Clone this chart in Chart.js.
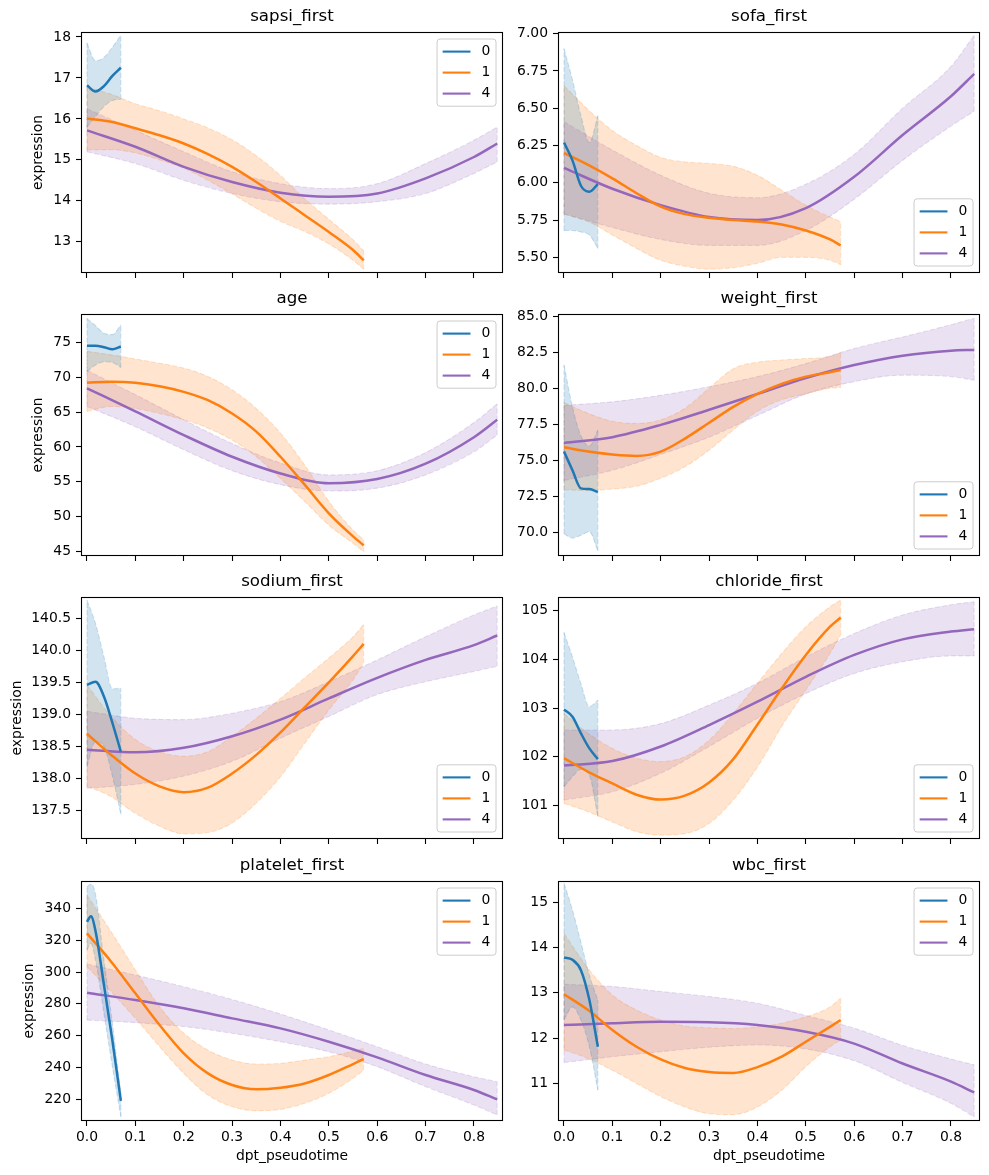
<!DOCTYPE html>
<html lang="en">
<head>
<meta charset="UTF-8">
<title>expression along dpt_pseudotime</title>
<script src="https://cdn.jsdelivr.net/npm/chart.js@4"></script>
<style>
  body { margin: 0; background: #fff; }
  #fig { position: relative; width: 989px; height: 1175px; overflow: hidden; }
  #fig canvas { position: absolute; }
</style>
</head>
<body>
<div id="fig"></div>
<script>
// pseudotime positions per cluster
const x0 = [0, 0.0175, 0.035, 0.0525, 0.07];
const x0p = [0, 0.008, 0.0175, 0.035, 0.0525, 0.07];
const x1 = [0, 0.05, 0.1, 0.15, 0.2, 0.25, 0.3, 0.35, 0.4, 0.45, 0.5, 0.55, 0.572];
const x4 = [0, 0.1, 0.2, 0.3, 0.4, 0.5, 0.6, 0.7, 0.8, 0.848];
const clusters = ['0', '1', '4'];
const xTicks = [0, 0.1, 0.2, 0.3, 0.4, 0.5, 0.6, 0.7, 0.8];

// sapsi_first
const sapsi0   = [16.82, 16.67, 16.8, 17.05, 17.25];
const sapsi0Lo = [15.8, 16.05, 16.3, 16.45, 16.48];
const sapsi0Hi = [17.85, 17.42, 17.5, 17.75, 18.04];
const sapsi1   = [16.01, 15.93, 15.77, 15.6, 15.4, 15.14, 14.83, 14.46, 14.06, 13.65, 13.24, 12.8, 12.55];
const sapsi1Lo = [15.24, 15.25, 15.17, 15.0, 14.8, 14.5, 14.17, 13.82, 13.5, 13.25, 12.95, 12.55, 12.33];
const sapsi1Hi = [16.78, 16.6, 16.37, 16.2, 16.0, 15.78, 15.49, 15.1, 14.62, 14.05, 13.55, 13.05, 12.78];
const sapsi4   = [15.72, 15.32, 14.83, 14.46, 14.2, 14.1, 14.18, 14.55, 15.07, 15.4];
const sapsi4Lo = [15.2, 14.91, 14.5, 14.18, 13.98, 13.92, 13.98, 14.18, 14.67, 14.95];
const sapsi4Hi = [16.25, 15.72, 15.2, 14.71, 14.42, 14.3, 14.42, 14.91, 15.48, 15.8];
const sapsiTicks = [13, 14, 15, 16, 17, 18];

// sofa_first
const sofa0   = [6.27, 6.15, 5.98, 5.94, 5.99];
const sofa0Lo = [5.68, 5.68, 5.67, 5.65, 5.56];
const sofa0Hi = [6.90, 6.69, 6.45, 6.27, 6.45];
const sofa1   = [6.20, 6.12, 6.03, 5.93, 5.84, 5.79, 5.765, 5.75, 5.74, 5.72, 5.68, 5.62, 5.58];
const sofa1Lo = [5.79, 5.74, 5.65, 5.56, 5.48, 5.44, 5.42, 5.43, 5.46, 5.50, 5.50, 5.48, 5.45];
const sofa1Hi = [6.65, 6.49, 6.35, 6.25, 6.17, 6.14, 6.13, 6.11, 6.05, 5.95, 5.85, 5.77, 5.74];
const sofa4   = [6.10, 5.96, 5.85, 5.77, 5.75, 5.83, 6.04, 6.32, 6.58, 6.73];
const sofa4Lo = [5.79, 5.70, 5.62, 5.58, 5.58, 5.68, 5.89, 6.15, 6.38, 6.48];
const sofa4Hi = [6.41, 6.22, 6.05, 5.93, 5.90, 5.99, 6.19, 6.50, 6.78, 6.99];
const sofaTicks = [5.5, 5.75, 6.0, 6.25, 6.5, 6.75, 7.0];

// age
const age0   = [74.5, 74.5, 74.3, 74.0, 74.4];
const age0Lo = [70.8, 71.75, 72.2, 72.1, 71.4];
const age0Hi = [78.4, 77.4, 76.3, 76.1, 77.5];
const age1   = [69.2, 69.35, 69.2, 68.7, 67.9, 66.7, 64.8, 62.2, 58.6, 54.6, 50.5, 47.2, 45.9];
const age1Lo = [65.1, 65.8, 65.5, 64.8, 63.9, 62.7, 61.0, 58.6, 55.5, 52.2, 48.8, 46.2, 45.0];
const age1Hi = [73.7, 73.2, 72.6, 72.0, 71.3, 70.1, 68.2, 65.5, 62.0, 57.4, 52.2, 48.1, 46.7];
const age4   = [68.4, 65.1, 61.7, 58.6, 56.2, 54.8, 55.4, 57.6, 61.4, 63.9];
const age4Lo = [65.8, 62.9, 59.6, 56.6, 54.6, 53.7, 54.1, 56.0, 59.3, 61.7];
const age4Hi = [71.0, 67.5, 63.9, 60.5, 57.7, 56.0, 56.6, 59.2, 63.5, 66.2];
const ageTicks = [45, 50, 55, 60, 65, 70, 75];

// weight_first
const weight0   = [75.6, 74.3, 73.05, 73.0, 72.8];
const weight0Lo = [69.9, 69.6, 69.8, 70.05, 68.7];
const weight0Hi = [81.6, 78.7, 76.7, 76.0, 77.1];
const weight1   = [75.9, 75.6, 75.4, 75.3, 75.6, 76.5, 77.6, 78.7, 79.6, 80.3, 80.8, 81.1, 81.25];
const weight1Lo = [72.95, 72.9, 73.0, 73.2, 73.75, 74.55, 75.7, 77.1, 78.4, 79.2, 79.6, 80.0, 80.05];
const weight1Hi = [79.0, 78.25, 77.7, 77.55, 77.8, 78.6, 80.0, 81.35, 81.8, 81.95, 82.05, 82.2, 82.45];
const weight4   = [76.2, 76.6, 77.45, 78.5, 79.6, 80.7, 81.6, 82.25, 82.6, 82.65];
const weight4Lo = [73.6, 74.3, 75.4, 76.6, 78.1, 79.6, 80.45, 80.9, 80.8, 80.55];
const weight4Hi = [78.8, 79.05, 79.5, 80.1, 80.8, 81.7, 82.75, 83.55, 84.4, 84.85];
const weightTicks = [70, 72.5, 75, 77.5, 80, 82.5, 85];

// sodium_first
const sodium0   = [139.46, 139.51, 139.28, 138.87, 138.42];
const sodium0Lo = [138.19, 138.58, 138.5, 138.04, 137.44];
const sodium0Hi = [140.78, 140.42, 139.9, 139.4, 139.41];
const sodium1   = [138.7, 138.37, 138.08, 137.88, 137.79, 137.86, 138.08, 138.37, 138.72, 139.11, 139.5, 139.91, 140.1];
const sodium1Lo = [137.88, 137.72, 137.46, 137.26, 137.14, 137.16, 137.31, 137.62, 138.03, 138.55, 139.07, 139.54, 139.8];
const sodium1Hi = [139.46, 138.97, 138.61, 138.42, 138.35, 138.42, 138.66, 138.94, 139.25, 139.57, 139.88, 140.21, 140.4];
const sodium4   = [138.45, 138.41, 138.48, 138.66, 138.92, 139.25, 139.57, 139.85, 140.08, 140.23];
const sodium4Lo = [137.85, 137.91, 138.04, 138.27, 138.63, 138.97, 139.31, 139.51, 139.67, 139.75];
const sodium4Hi = [139.05, 138.94, 138.92, 139.02, 139.2, 139.51, 139.85, 140.21, 140.55, 140.69];
const sodiumTicks = [137.5, 138, 138.5, 139, 139.5, 140, 140.5];

// chloride_first
const chloride0   = [102.97, 102.82, 102.48, 102.17, 101.95];
const chloride0Lo = [101.38, 101.59, 101.74, 101.62, 100.77];
const chloride0Hi = [104.55, 104.05, 103.5, 103.03, 103.16];
const chloride1   = [101.97, 101.69, 101.45, 101.22, 101.12, 101.2, 101.47, 101.95, 102.66, 103.4, 104.09, 104.67, 104.86];
const chloride1Lo = [101.04, 100.87, 100.66, 100.46, 100.39, 100.42, 100.63, 101.11, 101.79, 102.62, 103.37, 104.12, 104.5];
const chloride1Hi = [102.89, 102.48, 102.17, 101.97, 101.9, 102.0, 102.34, 102.89, 103.51, 104.12, 104.67, 105.08, 105.22];
const chloride4   = [101.82, 101.91, 102.21, 102.65, 103.13, 103.64, 104.09, 104.41, 104.57, 104.62];
const chloride4Lo = [101.11, 101.28, 101.66, 102.21, 102.79, 103.3, 103.71, 103.95, 104.07, 104.07];
const chloride4Hi = [102.55, 102.55, 102.68, 103.06, 103.51, 104.05, 104.53, 104.91, 105.12, 105.18];
const chlorideTicks = [101, 102, 103, 104, 105];

// platelet_first (cluster 0 sampled on x0p)
const platelet0   = [331.5, 335, 326, 292, 257, 219];
const platelet0Lo = [313.8, 318, 307.5, 274, 240.5, 209];
const platelet0Hi = [353.6, 355.3, 349, 307.5, 268, 223.8];
const platelet1   = [324.3, 306.5, 286.6, 266.7, 248.9, 236.3, 229, 226.3, 227.3, 230, 235.3, 242.2, 245.3];
const platelet1Lo = [303.4, 287.6, 270.9, 253.1, 236.3, 222.7, 215.4, 212.9, 213.7, 217.5, 223.8, 233.2, 238.4];
const platelet1Hi = [348.4, 325.3, 301.3, 278.2, 261.5, 251, 244.7, 242.2, 242.6, 244.7, 246.8, 250.4, 252];
const platelet4   = [287, 282.4, 277.2, 270.9, 264.6, 256.2, 246.4, 235.3, 225.9, 220];
const platelet4Lo = [269.8, 268.2, 265.7, 261.5, 256.2, 249.9, 240.5, 228, 216.4, 210.2];
const platelet4Hi = [305, 298.1, 290.8, 282.8, 273.6, 263.6, 253.1, 242.2, 234.2, 231.1];
const plateletTicks = [220, 240, 260, 280, 300, 320, 340];

// wbc_first
const wbc0   = [13.78, 13.73, 13.5, 12.84, 11.81];
const wbc0Lo = [12.4, 12.69, 12.4, 11.81, 10.85];
const wbc0Hi = [15.42, 14.83, 14.12, 13.39, 12.84];
const wbc1   = [12.97, 12.62, 12.18, 11.81, 11.53, 11.34, 11.25, 11.23, 11.36, 11.59, 11.92, 12.25, 12.4];
const wbc1Lo = [11.74, 11.55, 11.29, 11.0, 10.71, 10.48, 10.33, 10.31, 10.48, 10.85, 11.37, 11.81, 11.96];
const wbc1Hi = [14.31, 13.54, 12.95, 12.62, 12.4, 12.27, 12.23, 12.21, 12.25, 12.33, 12.47, 12.69, 12.88];
const wbc4   = [12.29, 12.33, 12.36, 12.35, 12.29, 12.14, 11.88, 11.44, 11.04, 10.8];
const wbc4Lo = [11.46, 11.59, 11.7, 11.8, 11.85, 11.76, 11.5, 11.02, 10.56, 10.26];
const wbc4Hi = [13.19, 13.14, 13.03, 12.92, 12.77, 12.5, 12.22, 11.84, 11.54, 11.41];
const wbcTicks = [11, 12, 13, 14, 15];

const series = {
  sapsi:    [[x0, sapsi0, sapsi0Lo, sapsi0Hi], [x1, sapsi1, sapsi1Lo, sapsi1Hi], [x4, sapsi4, sapsi4Lo, sapsi4Hi]],
  sofa:     [[x0, sofa0, sofa0Lo, sofa0Hi], [x1, sofa1, sofa1Lo, sofa1Hi], [x4, sofa4, sofa4Lo, sofa4Hi]],
  age:      [[x0, age0, age0Lo, age0Hi], [x1, age1, age1Lo, age1Hi], [x4, age4, age4Lo, age4Hi]],
  weight:   [[x0, weight0, weight0Lo, weight0Hi], [x1, weight1, weight1Lo, weight1Hi], [x4, weight4, weight4Lo, weight4Hi]],
  sodium:   [[x0, sodium0, sodium0Lo, sodium0Hi], [x1, sodium1, sodium1Lo, sodium1Hi], [x4, sodium4, sodium4Lo, sodium4Hi]],
  chloride: [[x0, chloride0, chloride0Lo, chloride0Hi], [x1, chloride1, chloride1Lo, chloride1Hi], [x4, chloride4, chloride4Lo, chloride4Hi]],
  platelet: [[x0p, platelet0, platelet0Lo, platelet0Hi], [x1, platelet1, platelet1Lo, platelet1Hi], [x4, platelet4, platelet4Lo, platelet4Hi]],
  wbc:      [[x0, wbc0, wbc0Lo, wbc0Hi], [x1, wbc1, wbc1Lo, wbc1Hi], [x4, wbc4, wbc4Lo, wbc4Hi]]
};

const panels = [
  {title: 'sapsi_first',    key: 'sapsi',    ticks: sapsiTicks,    ymin: 12.24,  ymax: 18.12, dec: 0, legend: 'upper', ylab: 38.5},
  {title: 'sofa_first',     key: 'sofa',     ticks: sofaTicks,     ymin: 5.395,  ymax: 7.011, dec: 2, legend: 'lower'},
  {title: 'age',            key: 'age',      ticks: ageTicks,      ymin: 44.38,  ymax: 79.05, dec: 0, legend: 'upper', ylab: 38.5},
  {title: 'weight_first',   key: 'weight',   ticks: weightTicks,   ymin: 68.36,  ymax: 85.14, dec: 1, legend: 'lower'},
  {title: 'sodium_first',   key: 'sodium',   ticks: sodiumTicks,   ymin: 137.06, ymax: 140.83, dec: 1, legend: 'lower', ylab: 17},
  {title: 'chloride_first', key: 'chloride', ticks: chlorideTicks, ymin: 100.31, ymax: 105.28, dec: 0, legend: 'lower'},
  {title: 'platelet_first', key: 'platelet', ticks: plateletTicks, ymin: 206.4,  ymax: 357.2, dec: 0, legend: 'upper', ylab: 29.5},
  {title: 'wbc_first',      key: 'wbc',      ticks: wbcTicks,      ymin: 10.17,  ymax: 15.47, dec: 0, legend: 'upper'}
];

const lineColors = ['#1f77b4', '#ff7f0e', '#9467bd'];
const bandColors = ['rgba(31,119,180,0.2)', 'rgba(255,127,14,0.2)', 'rgba(148,103,189,0.2)'];

// layout of the 4x2 grid (page pixels)
const cols = [{left: 0, width: 507, yW: 81, padR: 4}, {left: 500, width: 489, yW: 58, padR: 9}];
const rows = [{top: 32, bottom: 273}, {top: 314, bottom: 556}, {top: 597, bottom: 839}, {top: 881, bottom: 1121}];
const TITLE_H = 25;
const FIG_H = 1175;

Chart.defaults.font.family = "'DejaVu Sans', sans-serif";
Chart.defaults.font.size = 13.9;
Chart.defaults.color = '#000';

const framePlugin = {
  id: 'frame',
  afterDatasetsDraw(chart) {
    const {ctx, chartArea: a} = chart;
    ctx.save();
    ctx.strokeStyle = '#000';
    ctx.lineWidth = 1.1;
    ctx.strokeRect(Math.round(a.left) + 0.5, Math.round(a.top) + 0.5, Math.round(a.right - a.left) - 1, Math.round(a.bottom - a.top) - 1);
    ctx.restore();
  }
};

// matplotlib style legend box inside the axes
const mplLegend = {
  id: 'mplLegend',
  afterDraw(chart, args, opts) {
    const items = chart.data.datasets.filter(d => d.legendLabel !== undefined);
    const {ctx, chartArea: a} = chart;
    const pad = 5.6, rowH = 14, gap = 7, handle = 27.8, hpad = 11.1;
    ctx.save();
    ctx.font = "13.9px 'DejaVu Sans'";
    const textW = Math.max(...items.map(d => ctx.measureText(d.legendLabel).width));
    const w = pad * 2 + handle + hpad + textW;
    const h = pad * 2 + items.length * rowH + (items.length - 1) * gap;
    const x = a.right - 7 - w;
    const y = opts.loc === 'upper' ? a.top + 7 : a.bottom - 7 - h;
    ctx.beginPath();
    ctx.roundRect(x, y, w, h, 3);
    ctx.fillStyle = 'rgba(255,255,255,0.8)';
    ctx.fill();
    ctx.strokeStyle = '#cccccc';
    ctx.lineWidth = 1;
    ctx.stroke();
    items.forEach((d, i) => {
      const cy = y + pad + rowH / 2 + i * (rowH + gap);
      ctx.beginPath();
      ctx.moveTo(x + pad, cy);
      ctx.lineTo(x + pad + handle, cy);
      ctx.strokeStyle = d.borderColor;
      ctx.lineWidth = 2.1;
      ctx.stroke();
      ctx.fillStyle = '#000';
      ctx.textBaseline = 'middle';
      ctx.fillText(d.legendLabel, x + pad + handle + hpad, cy);
    });
    ctx.restore();
  }
};

function pts(xs, ys) {
  return xs.map((x, i) => ({x: x, y: ys[i]}));
}

function buildDatasets(groups) {
  const ds = [];
  groups.forEach(([xs, mean, lo, hi], g) => {
    const edge = {borderColor: bandColors[g], borderWidth: 1.1, borderDash: [5, 2.2], pointRadius: 0,
                  cubicInterpolationMode: 'monotone', order: 1, fill: false};
    const loIdx = ds.length;
    const n = xs.length - 1;
    ds.push(Object.assign({}, edge, {data: pts(xs, lo)}));
    ds.push(Object.assign({}, edge, {data: pts(xs, hi), fill: loIdx, backgroundColor: bandColors[g]}));
    ds.push(Object.assign({}, edge, {data: [{x: xs[0], y: lo[0]}, {x: xs[0], y: hi[0]}]}));
    ds.push(Object.assign({}, edge, {data: [{x: xs[n], y: lo[n]}, {x: xs[n], y: hi[n]}]}));
    ds.push({label: clusters[g], legendLabel: clusters[g], data: pts(xs, mean), borderColor: lineColors[g],
             borderWidth: 2.5, pointRadius: 0, cubicInterpolationMode: 'monotone', order: 0, fill: false});
  });
  return ds;
}

const fig = document.getElementById('fig');

panels.forEach((p, i) => {
  const col = cols[i % 2];
  const rowIdx = Math.floor(i / 2);
  const row = rows[rowIdx];
  const last = rowIdx === rows.length - 1;
  const xH = last ? FIG_H - row.bottom : 6;
  const top = row.top - TITLE_H;
  const height = TITLE_H + (row.bottom - row.top) + xH;

  const canvas = document.createElement('canvas');
  canvas.width = col.width;
  canvas.height = height;
  canvas.style.left = col.left + 'px';
  canvas.style.top = top + 'px';
  fig.appendChild(canvas);

  new Chart(canvas, {
    type: 'line',
    data: {datasets: buildDatasets(series[p.key])},
    options: {
      responsive: false,
      animation: false,
      devicePixelRatio: 1,
      events: [],
      layout: {padding: {left: 0, right: col.padR, top: 0, bottom: 0}},
      plugins: {
        legend: {display: false},
        tooltip: {enabled: false},
        title: {display: true, text: p.title, fullSize: false, color: '#000',
                font: {size: 16.67, weight: 'normal'}, padding: {top: 0, bottom: 5}},
        mplLegend: {loc: p.legend}
      },
      scales: {
        x: {
          type: 'linear',
          min: -0.0124,
          max: 0.860,
          afterBuildTicks: s => { s.ticks = xTicks.map(v => ({value: v})); },
          afterFit: s => { s.height = xH; s.paddingLeft = 0; s.paddingRight = 0; },
          grid: {drawOnChartArea: false, drawTicks: true, tickLength: 5, tickColor: '#000', tickWidth: 1.1},
          border: {display: false},
          ticks: {display: last, padding: 3, color: '#000', maxRotation: 0, autoSkip: false,
                  callback: v => Number(v).toFixed(1)},
          title: {display: last, text: 'dpt_pseudotime', color: '#000', padding: {top: 0, bottom: 10.7}}
        },
        y: {
          type: 'linear',
          min: p.ymin,
          max: p.ymax,
          afterBuildTicks: s => { s.ticks = p.ticks.map(v => ({value: v})); },
          afterFit: s => { s.width = col.yW; s.paddingTop = 0; s.paddingBottom = 0; },
          grid: {drawOnChartArea: false, drawTicks: true, tickLength: 5, tickColor: '#000', tickWidth: 1.1},
          border: {display: false},
          ticks: {padding: 5, color: '#000', autoSkip: false, callback: v => Number(v).toFixed(p.dec)},
          title: {display: p.ylab !== undefined, text: 'expression', color: '#000',
                  padding: {top: (p.ylab || 0) - 8.34, bottom: 0}}
        }
      }
    },
    plugins: [framePlugin, mplLegend]
  });
});
</script>
</body>
</html>
